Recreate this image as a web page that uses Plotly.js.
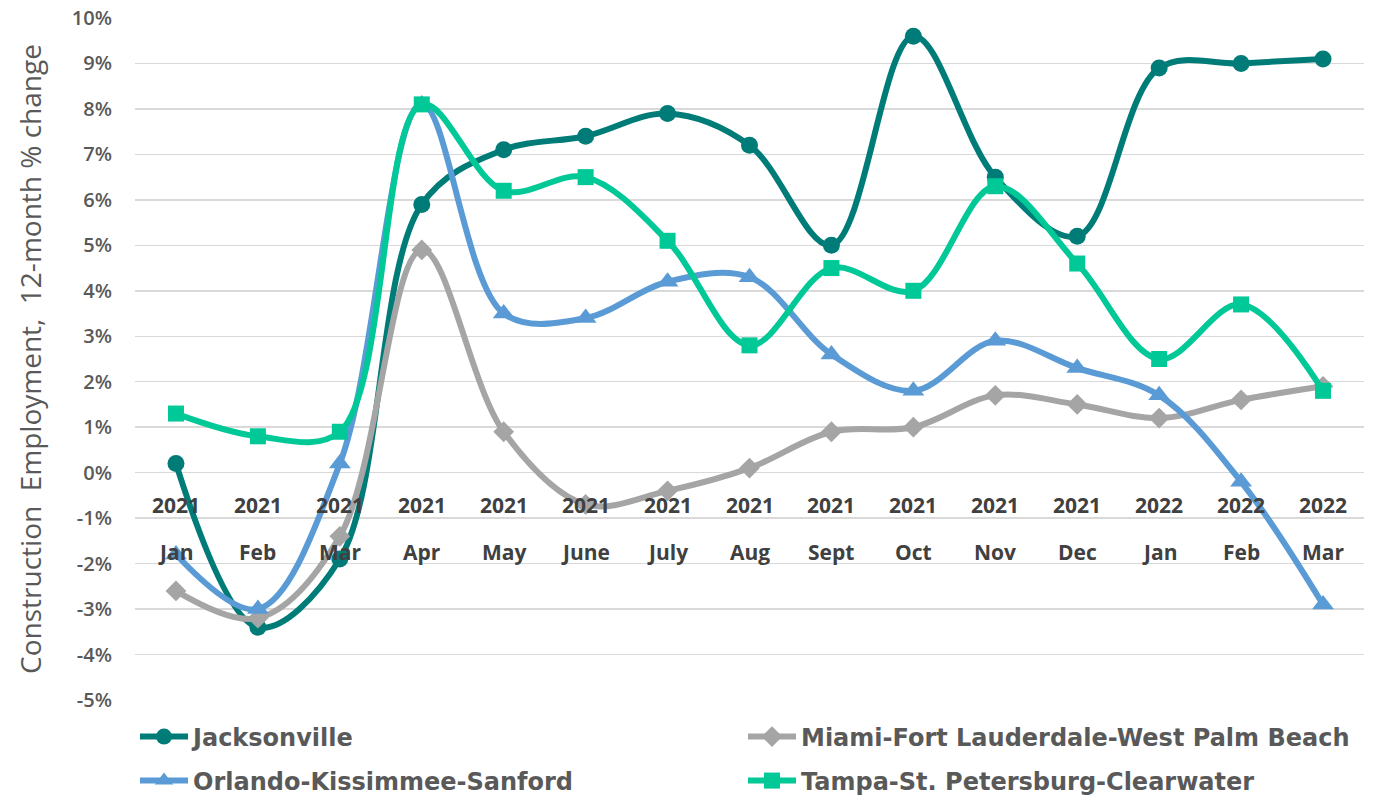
<!DOCTYPE html>
<html>
<head>
<meta charset="utf-8">
<script src="https://cdn.plot.ly/plotly-3.0.1.min.js"></script>
<style>html,body{margin:0;padding:0;background:#fff;overflow:hidden;}#chart{width:1373px;height:801px;}</style>
</head>
<body>
<div id="chart"></div>
<script>
var years = ["2021","2021","2021","2021","2021","2021","2021","2021","2021","2021","2021","2021","2022","2022","2022"];
var months = ["Jan","Feb","Mar","Apr","May","June","July","Aug","Sept","Oct","Nov","Dec","Jan","Feb","Mar"];
var categories = ["Jan 2021","Feb 2021","Mar 2021","Apr 2021","May 2021","Jun 2021","Jul 2021","Aug 2021","Sep 2021","Oct 2021","Nov 2021","Dec 2021","Jan 2022","Feb 2022","Mar 2022"];

var jacksonville = [0.2, -3.4, -1.9, 5.9, 7.1, 7.4, 7.9, 7.2, 5.0, 9.6, 6.5, 5.2, 8.9, 9.0, 9.1];
var miami        = [-2.6, -3.2, -1.4, 4.9, 0.9, -0.7, -0.4, 0.1, 0.9, 1.0, 1.7, 1.5, 1.2, 1.6, 1.9];
var orlando      = [-1.8, -3.0, 0.2, 8.1, 3.5, 3.4, 4.2, 4.3, 2.6, 1.8, 2.9, 2.3, 1.7, -0.2, -2.9];
var tampa        = [1.3, 0.8, 0.9, 8.1, 6.2, 6.5, 5.1, 2.8, 4.5, 4.0, 6.3, 4.6, 2.5, 3.7, 1.8];

var seriesNames = ["Jacksonville","Miami-Fort Lauderdale-West Palm Beach","Orlando-Kissimmee-Sanford","Tampa-St. Petersburg-Clearwater"];

var yTickVals = [-5,-4,-3,-2,-1,0,1,2,3,4,5,6,7,8,9,10];
var yTickText = ["-5%","-4%","-3%","-2%","-1%","0%","1%","2%","3%","4%","5%","6%","7%","8%","9%","10%"];

var xIdx = categories.map(function(_, i){ return i; });

function mk(name, y, color, symbol, size, legend){
  return {
    type: 'scatter', mode: 'lines+markers', name: name,
    x: xIdx, y: y,
    line: {color: color, width: 6, shape: 'spline', smoothing: 1},
    marker: {color: color, symbol: symbol, size: size},
    legend: legend,
    hoverinfo: 'x+y'
  };
}

var traces = [
  mk(seriesNames[0], jacksonville, '#007C78', 'circle', 17, 'legend'),
  mk(seriesNames[1], miami, '#A5A5A5', 'diamond', 16, 'legend'),
  mk(seriesNames[2], orlando, '#5B9BD5', 'triangle-up', 19, 'legend2'),
  mk(seriesNames[3], tampa, '#00C896', 'square', 16, 'legend2')
];

var axFont = {family: 'Open Sans', size: 21, color: '#404040', weight: 700};
var annotations = [];
for (var i = 0; i < xIdx.length; i++) {
  annotations.push({x: xIdx[i], y: 0, xref: 'x', yref: 'y', text: years[i], showarrow: false,
    yshift: -32, yanchor: 'middle', font: axFont});
  annotations.push({x: xIdx[i], y: 0, xref: 'x', yref: 'y', text: months[i], showarrow: false,
    yshift: -79, yanchor: 'middle', font: axFont});
}

var legendFont = {family: 'DejaVu Sans', size: 24, color: '#595959', weight: 700};

var layout = {
  width: 1373, height: 801,
  margin: {l: 135, r: 9, t: 18, b: 101},
  paper_bgcolor: '#ffffff', plot_bgcolor: '#ffffff',
  font: {family: 'Open Sans', color: '#595959'},
  showlegend: true,
  xaxis: {
    range: [-0.5, 14.5], showgrid: false, zeroline: false, showline: false,
    showticklabels: false, ticks: '', fixedrange: true
  },
  yaxis: {
    range: [-5, 10], tickmode: 'array', tickvals: yTickVals, ticktext: yTickText,
    showgrid: true, gridcolor: '#D9D9D9', gridwidth: 1.5,
    zeroline: false, showline: false, ticks: '',
    ticklabelstandoff: 22,
    tickfont: {family: 'Open Sans', size: 20, color: '#595959', weight: 600},
    title: {text: 'Construction  Employment,  12-month % change', standoff: 22,
      font: {family: 'Open Sans', size: 28, color: '#595959'}},
    automargin: false, fixedrange: true
  },
  legend: {
    orientation: 'h', x: 0, xanchor: 'left', yref: 'container', y: 0.0799, yanchor: 'middle',
    font: legendFont, entrywidth: 545, itemwidth: 48,
    bgcolor: 'rgba(0,0,0,0)'
  },
  legend2: {
    orientation: 'h', x: 0, xanchor: 'left', yref: 'container', y: 0.025, yanchor: 'middle',
    font: legendFont, entrywidth: 545, itemwidth: 48,
    bgcolor: 'rgba(0,0,0,0)'
  },
  annotations: annotations
};

Plotly.newPlot('chart', traces, layout, {displayModeBar: false, staticPlot: true});
</script>
</body>
</html>
